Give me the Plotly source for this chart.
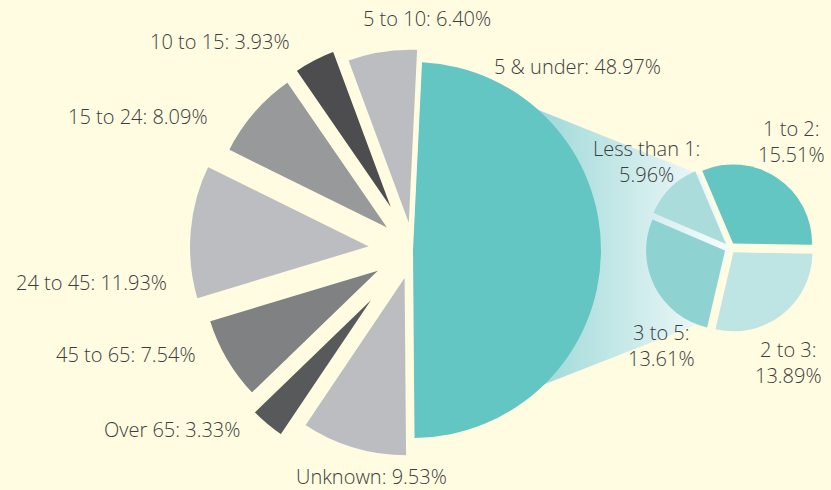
import math
import plotly.graph_objects as go

W, H = 831, 490
BG = "#fffce1"
TEXT = "#3d3d3d"

# main pie (clockwise from the split slice)
main_labels = ["5 & under", "Unknown", "Over 65", "45 to 65", "24 to 45",
               "15 to 24", "10 to 15", "5 to 10"]
main_values = [48.97, 9.53, 3.33, 7.54, 11.93, 8.09, 3.93, 6.40]

# breakdown of "5 & under"
sub_labels = ["1 to 2", "2 to 3", "3 to 5", "Less than 1"]
sub_values = [15.51, 13.89, 13.61, 5.96]

# styling
main_colors = ["#63c6c3", "#bcbdc1", "#58595b", "#808183", "#bcbdc1",
               "#98999b", "#4d4d4f", "#bcbdc1"]
main_pull = [0, 0.11, 0.22, 0.16, 0.2, 0.13, 0.15, 0.08]
main_line = [0, 5, 5, 5, 5, 5, 5, 5]
sub_colors = ["#63c6c3", "#bfe4e4", "#8ed3d2", "#a9dcdb"]
sub_pull = [0.07, 0.07, 0.07, 0.07]

MAIN_C, MAIN_R = (413, 250), 188
SUB_C, SUB_R = (730, 248), 79

main_pos = [(577, 66), (371, 476), (172, 429), (126, 354), (91, 282),
            (138, 116), (220, 41), (427, 18)]
sub_pos = [(791, 141), (788, 362), (661, 345), (646, 161)]


def pie_domain(c, r, pull):
    side = 2 * r * (1 + max(pull))
    return dict(x=[(c[0] - side / 2) / W, (c[0] + side / 2) / W],
                y=[1 - (c[1] + side / 2) / H, 1 - (c[1] - side / 2) / H])


def polar(c, r, deg):
    a = math.radians(deg)
    return c[0] + r * math.sin(a), c[1] - r * math.cos(a)


fig = go.Figure()

# connector band between the two pies
pts = [polar(MAIN_C, MAIN_R * 0.94, 22), polar(SUB_C, SUB_R, 338), SUB_C,
       polar(SUB_C, SUB_R, 200), polar(MAIN_C, MAIN_R * 0.92, 157)]
pts.append(pts[0])
fig.add_trace(go.Scatter(
    x=[p[0] for p in pts], y=[p[1] for p in pts], mode="lines",
    fill="toself", line=dict(width=0), hoverinfo="skip", showlegend=False,
    fillgradient=dict(type="horizontal",
                      colorscale=[[0, "#8fd4d2"], [0.3, "#a6dcdb"],
                                  [0.9, "#eef8f8"], [1, "#f6fbf9"]])))

fig.add_trace(go.Pie(
    labels=main_labels, values=main_values, sort=False, direction="clockwise",
    rotation=2.75, pull=main_pull, textinfo="none", hoverinfo="skip",
    marker=dict(colors=main_colors, line=dict(color=BG, width=main_line)),
    domain=pie_domain(MAIN_C, MAIN_R, main_pull), showlegend=False))

fig.add_trace(go.Pie(
    labels=sub_labels, values=sub_values, sort=False, direction="clockwise",
    rotation=-23, pull=sub_pull, textinfo="none", hoverinfo="skip",
    marker=dict(colors=sub_colors, line=dict(width=0)),
    domain=pie_domain(SUB_C, SUB_R, sub_pull), showlegend=False))

for lab, val, (x, y) in zip(main_labels, main_values, main_pos):
    fig.add_annotation(x=x, y=y, text=f"{lab}: {val:.2f}%", showarrow=False)
for lab, val, (x, y) in zip(sub_labels, sub_values, sub_pos):
    fig.add_annotation(x=x, y=y, text=f"{lab}:<br>{val:.2f}%", showarrow=False)

fig.update_annotations(xref="x", yref="y",
                       font=dict(family="Open Sans", size=20, weight=300, color=TEXT))
fig.update_xaxes(range=[0, W], visible=False, fixedrange=True)
fig.update_yaxes(range=[H, 0], visible=False, fixedrange=True)
fig.update_layout(width=W, height=H, margin=dict(l=0, r=0, t=0, b=0),
                  paper_bgcolor=BG, plot_bgcolor=BG)
fig.write_html("out.html", config={"displayModeBar": False},
               post_script="document.body.style.margin='0px';")
